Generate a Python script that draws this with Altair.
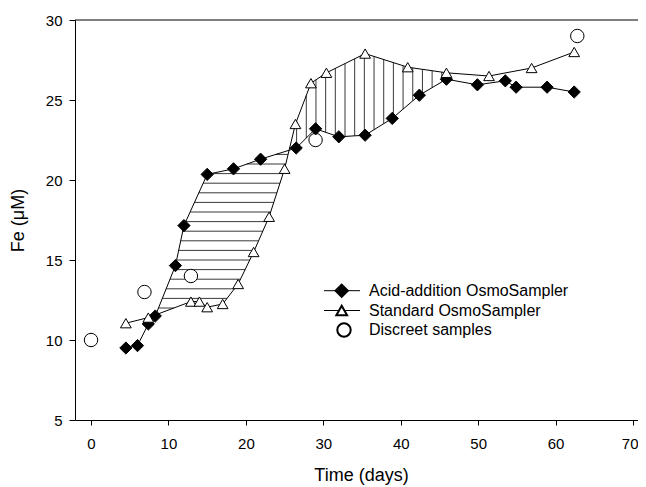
import altair as alt
import numpy as np
import pandas as pd

# ---- data ----
acid_day = [4.5, 6.0, 7.4, 8.3, 10.9, 12.0, 15.0, 18.4, 21.9, 26.5, 29.0, 32.0, 35.4,
            38.9, 42.4, 45.9, 49.9, 53.5, 54.9, 58.9, 62.4]
acid_fe = [9.5, 9.65, 11.0, 11.5, 14.65, 17.15, 20.35, 20.7, 21.3, 22.0, 23.2, 22.7, 22.8,
           23.85, 25.3, 26.3, 25.95, 26.2, 25.8, 25.8, 25.5]
std_day = [4.5, 7.4, 12.9, 14.0, 15.0, 17.0, 19.0, 21.0, 23.0, 25.0, 26.4, 28.4, 30.4,
           35.4, 40.9, 45.9, 51.4, 56.9, 62.4]
std_fe = [11.05, 11.4, 12.4, 12.4, 12.05, 12.25, 13.5, 15.5, 17.7, 20.7, 23.5, 26.05, 26.7,
          27.9, 27.05, 26.7, 26.5, 27.0, 28.0]
disc_day = [0.0, 6.9, 12.9, 29.0, 62.8]
disc_fe = [10.0, 13.0, 14.0, 22.5, 29.0]

legend_labels = ["Acid-addition OsmoSampler", "Standard OsmoSampler", "Discreet samples"]
x_ticks = [0, 10, 20, 30, 40, 50, 60, 70]
y_ticks = [5, 10, 15, 20, 25, 30]

# hatch line spacing (style)
h_levels = np.arange(12.0, 21.7, 0.6)
v_positions = np.arange(26.55, 45.9, 1.25)
v_end = 45.9

# ---- hatch geometry derived from the two curves ----
ax_, ay_ = np.array(acid_day), np.array(acid_fe)
sx_, sy_ = np.array(std_day), np.array(std_fe)


def crossings(xa, ya, xb, yb):
    grid = np.union1d(xa, xb)
    lo, hi = max(xa.min(), xb.min()), min(xa.max(), xb.max())
    grid = grid[(grid >= lo) & (grid <= hi)]
    d = np.interp(grid, xa, ya) - np.interp(grid, xb, yb)
    out = []
    for i in range(len(grid) - 1):
        if d[i] * d[i + 1] < 0:
            t = d[i] / (d[i] - d[i + 1])
            out.append(grid[i] + t * (grid[i + 1] - grid[i]))
    return out


cx = crossings(ax_, ay_, sx_, sy_)
A, B = cx[0], cx[1]
poly = [(A, float(np.interp(A, ax_, ay_)))]
poly += [(x, y) for x, y in zip(ax_, ay_) if A < x < B]
poly += [(B, float(np.interp(B, ax_, ay_)))]
poly += [(x, y) for x, y in reversed(list(zip(sx_, sy_))) if A < x < B]


def scan(pl, v):
    xs = []
    n = len(pl)
    for i in range(n):
        (x1, y1), (x2, y2) = pl[i], pl[(i + 1) % n]
        if (y1 <= v < y2) or (y2 <= v < y1):
            xs.append(x1 + (v - y1) * (x2 - x1) / (y2 - y1))
    xs.sort()
    return list(zip(xs[0::2], xs[1::2]))


rows = []
for v in h_levels:
    for xl, xr in scan(poly, v):
        rows.append({"x": xl, "x2": xr, "y": v, "y2": v})
for xv in v_positions:
    if B < xv < v_end:
        ya = float(np.interp(xv, ax_, ay_))
        yb = float(np.interp(xv, sx_, sy_))
        rows.append({"x": xv, "x2": xv, "y": min(ya, yb), "y2": max(ya, yb)})
hatch_df = pd.DataFrame(rows)

acid_df = pd.DataFrame({"day": acid_day, "fe": acid_fe})
std_df = pd.DataFrame({"day": std_day, "fe": std_fe})
disc_df = pd.DataFrame({"day": disc_day, "fe": disc_fe})

W, H = 563, 400
xscale = alt.Scale(domain=[-2.07, 70.64], nice=False, zero=False)
yscale = alt.Scale(domain=[5, 30], nice=False, zero=False)
FONT = "Liberation Sans, Arial, sans-serif"

xaxis = alt.Axis(
    values=x_ticks, title="Time (days)", tickSize=5, labelPadding=11,
    titleX=286, titleY=60, titleBaseline="alphabetic",
    labelAlign={"condition": {"test": "datum.value == 70", "value": "right"}, "value": "center"},
    labelOffset={"condition": {"test": "datum.value == 70", "value": 5}, "value": 0},
    labelBound=False,
)
yaxis = alt.Axis(values=y_ticks, title="Fe (\u03bcM)", tickSize=6, labelPadding=7,
                 titleX=-57, titleY=200, titleAngle=-90, titleBaseline="middle")


def X(field="day"):
    return alt.X(f"{field}:Q", scale=xscale, axis=xaxis)


def Y(field="fe"):
    return alt.Y(f"{field}:Q", scale=yscale, axis=yaxis)


hatch = alt.Chart(hatch_df).mark_rule(color="#222222", strokeWidth=0.9).encode(
    x=X("x"), x2="x2", y=Y("y"), y2="y2")

disc = alt.Chart(disc_df).mark_point(shape="circle", filled=True, fill="white",
                                     stroke="black", strokeWidth=1, size=180,
                                     opacity=1).encode(x=X(), y=Y())
acid_line = alt.Chart(acid_df).mark_line(color="black", strokeWidth=1).encode(x=X(), y=Y())
std_line = alt.Chart(std_df).mark_line(color="black", strokeWidth=1).encode(x=X(), y=Y())
acid_pts = alt.Chart(acid_df).mark_point(shape="diamond", filled=True, fill="black",
                                         stroke="black", strokeWidth=1, size=150,
                                         opacity=1).encode(x=X(), y=Y())
std_pts = alt.Chart(std_df).mark_point(shape="triangle-up", filled=True, fill="white",
                                       stroke="black", strokeWidth=1, size=115,
                                       opacity=1).encode(x=X(), y=Y())

top_border = alt.Chart(pd.DataFrame({"a": [0]})).mark_rule(color="black", strokeWidth=1).encode(
    x=alt.value(0), x2=alt.value(W), y=alt.value(0))

# ---- manual legend ----
leg_y = [270.7, 290.5, 310.0]
leg_layers = []
for i, lab in enumerate(legend_labels):
    d = pd.DataFrame({"label": [lab]})
    yy = leg_y[i]
    if i < 2:
        leg_layers.append(alt.Chart(d).mark_rule(color="black", strokeWidth=1).encode(
            x=alt.value(249), x2=alt.value(285), y=alt.value(yy)))
    if i == 0:
        leg_layers.append(alt.Chart(d).mark_point(shape="diamond", filled=True, fill="black",
                                                  stroke="black", size=150, opacity=1).encode(
            x=alt.value(266.7), y=alt.value(yy)))
    elif i == 1:
        leg_layers.append(alt.Chart(d).mark_point(shape="triangle-up", filled=True, fill="white",
                                                  stroke="black", size=115, opacity=1).encode(
            x=alt.value(266.7), y=alt.value(yy)))
    else:
        leg_layers.append(alt.Chart(d).mark_point(shape="circle", filled=True, fill="white",
                                                  stroke="black", size=180, opacity=1).encode(
            x=alt.value(269), y=alt.value(yy)))
    leg_layers.append(alt.Chart(d).mark_text(align="left", baseline="middle", fontSize=16,
                                             font=FONT, color="black").encode(
        x=alt.value(294), y=alt.value(yy), text="label:N"))

chart = alt.layer(hatch, disc, acid_line, std_line, acid_pts, std_pts, top_border,
                  *leg_layers).properties(
    width=W, height=H,
    autosize=alt.AutoSizeParams(type="none"),
    padding={"left": 67, "top": 12, "right": 0, "bottom": 66},
).configure_view(stroke=None).configure_axis(
    grid=False, domainColor="black", tickColor="black", labelColor="black",
    titleColor="black", labelFont=FONT, titleFont=FONT, labelFontSize=15,
    titleFontSize=18, titleFontWeight="normal", domainWidth=1, tickWidth=1,
)

chart.save("out.html", embed_options={"renderer": "svg", "actions": False})
